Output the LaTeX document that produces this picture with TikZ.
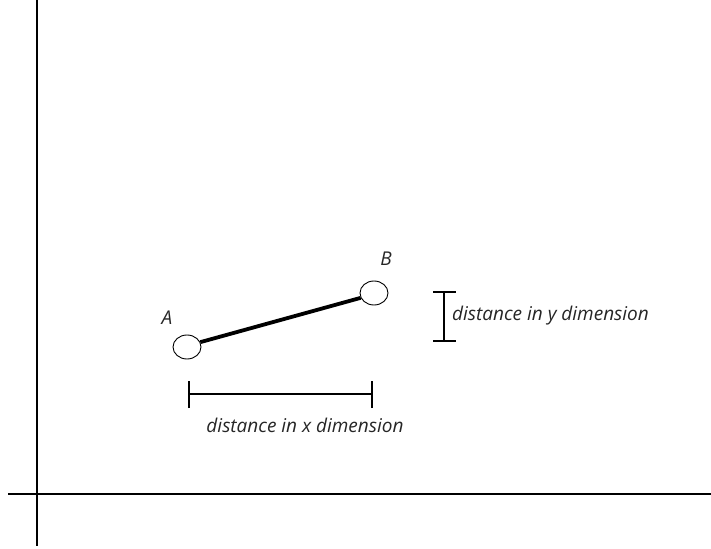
\documentclass[tikz,border=0pt]{standalone}
\usepackage{fontspec}
\setmainfont{Open Sans}
\usetikzlibrary{shapes.geometric}
\begin{document}
\begin{tikzpicture}[x=1pt, y=-1pt, every node/.style={font=\fontsize{19}{22}\selectfont\itshape, text=black!85}]
  \useasboundingbox (0,0) rectangle (711,548);
  % axes
  \coordinate (yaxtop) at (37,0);
  \coordinate (yaxbot) at (37,546);
  \coordinate (xaxl) at (8,494);
  \coordinate (xaxr) at (711,494);
  \draw[line width=1.6] (yaxtop) -- (yaxbot);
  \draw[line width=1.6] (xaxl) -- (xaxr);
  % points
  \node[draw, ellipse, minimum width=28, minimum height=24, inner sep=0, line width=0.9] (A) at (187,347) {};
  \node[draw, ellipse, minimum width=28, minimum height=24, inner sep=0, line width=0.9] (B) at (374,293) {};
  \node (labA) at (167,318) {A};
  \node (labB) at (386,259) {B};
  \draw[line width=3.8] (A.20) -- (B.200);
  % distance in y
  \coordinate (ytop) at (444,292);
  \coordinate (ybot) at (444,341);
  \draw[line width=1.6] (ytop) -- (ybot);
  \draw[line width=1.6] ([xshift=-11]ytop) -- ([xshift=12]ytop);
  \draw[line width=1.6] ([xshift=-11]ybot) -- ([xshift=12]ybot);
  \node[anchor=west, inner sep=0] (ytext) at (452,316) {distance in y dimension};
  % distance in x
  \coordinate (xl) at (189,394);
  \coordinate (xr) at (372,394);
  \draw[line width=1.6] (xl) -- (xr);
  \draw[line width=1.6] ([yshift=-14]xl) -- ([yshift=13]xl);
  \draw[line width=1.6] ([yshift=-14]xr) -- ([yshift=13]xr);
  \node (xtext) at (305,425) {distance in x dimension};
\end{tikzpicture}
\end{document}
